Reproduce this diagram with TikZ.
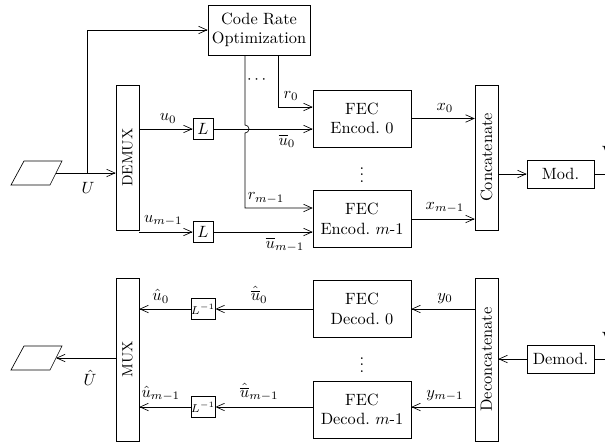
\documentclass[tikz,border=0pt]{standalone}
\usepackage{amsmath,amssymb,amsfonts}
\usetikzlibrary{arrows.meta, positioning, calc}
\begin{document}
\begin{tikzpicture}[x=0.613pt, y=-0.613pt,
    block/.style={rectangle, draw, align=center, minimum width=60pt, minimum height=35pt, inner sep=1pt},
    bar/.style={rectangle, draw, minimum width=14pt, inner sep=0pt},
    lbox/.style={rectangle, draw, minimum width=12.3pt, minimum height=13pt, inner sep=0pt},
    arrow/.style={-{Straight Barb[length=1.8mm, width=1.6mm]}}
]
\useasboundingbox (0,0) rectangle (605,444);

% transmitter side
\node[block, minimum width=62.5pt, minimum height=30.7pt] (cro) at (259,30) {Code Rate\\Optimization};
\node[bar, minimum height=89pt] (demux) at (127.5,157.5) {\rotatebox{90}{\small DEMUX}};
\node[lbox] (l0) at (203,129) {$L$};
\node[lbox] (l1) at (203,232) {$L$};
\node[block] (enc0) at (362,118.5) {FEC\\Encod.~0};
\node[block] (enc1) at (362,219) {FEC\\Encod.~$m$-1};
\node (encdots) at (362,170) {$\vdots$};
\node (rdots) at (258,80) {$\cdots$};
\node[bar, minimum height=89pt] (concat) at (486.5,157.5) {\rotatebox{90}{Concatenate}};
\node[block, minimum width=41pt, minimum height=17pt] (mod) at (560.5,174) {Mod.};
\node[anchor=west] (txch) at (596,152) {V};

\draw (11,185) -- (24,161) -- (62,161) -- (50,185) -- cycle;
\coordinate (src) at (56,173);
\coordinate (br) at (87,173);
\coordinate (jmp) at (245,129);
\coordinate (r0c) at (278,107);
\coordinate (r1c) at (245,208);
\coordinate (txout) at (612,174);

\draw[arrow] (src) -- (src -| demux.west);
\node (ulab) at (88,188) {$U$};
\draw[arrow] (br) |- (cro.west);
\draw[arrow] (demux.east |- l0) -- (l0.west) node[above, pos=0.54] {$u_0$};
\draw[arrow] (l0.east) -- (l0 -| enc0.west) node[below, pos=0.74] {$\overline{u}_0$};
\draw[arrow] (demux.east |- l1) -- (l1.west) node[above, pos=0.45] {$u_{m-1}$};
\draw[arrow] (l1.east) -- (l1 -| enc1.west) node[below, pos=0.72] {$\overline{u}_{m-1}$};
\draw[arrow] (cro.south -| r0c) |- (r0c -| enc0.west);
\node (r0lab) at (291,96) {$r_0$};
\draw[arrow] (cro.south -| jmp) -- ([yshift=4*0.613pt]jmp) arc[start angle=-90, end angle=90, radius=4] -- (r1c) -- (r1c -| enc1.west);
\node (r1lab) at (266,198) {$r_{m-1}$};
\draw[arrow] (enc0.east) -- (enc0.east -| concat.west) node[above, pos=0.53] {$x_0$};
\draw[arrow] (enc1.east) -- (enc1.east -| concat.west) node[above, pos=0.53] {$x_{m-1}$};
\draw[arrow] (concat.east |- mod) -- (mod.west);
\draw (mod.east) -- (txout);

% receiver side
\node[bar, minimum height=100pt] (mux) at (127.5,359.5) {\rotatebox{90}{\small MUX}};
\node[lbox] (il0) at (203,309) {$\scriptstyle L^{-1}$};
\node[lbox] (il1) at (203,407) {$\scriptstyle L^{-1}$};
\node[block] (dec0) at (362,309) {FEC\\Decod.~0};
\node[block] (dec1) at (362,409.5) {FEC\\Decod.~$m$-1};
\node (decdots) at (362,360) {$\vdots$};
\node[bar, minimum height=100pt] (deconcat) at (486.5,359.5) {\rotatebox{90}{Deconcatenate}};
\node[block, minimum width=41pt, minimum height=17pt] (demod) at (560.5,359) {Demod.};
\node[anchor=west] (rxch) at (596,338) {V};

\draw (11,370) -- (24,346) -- (62,346) -- (50,370) -- cycle;
\coordinate (snk) at (56,358);
\coordinate (rxin) at (612,359);

\draw (demod.east) -- (rxin);
\draw[arrow] (demod.west) -- (demod -| deconcat.east);
\draw[arrow] (deconcat.west |- dec0) -- (dec0.east) node[above, pos=0.47] {$y_0$};
\draw[arrow] (deconcat.west |- il1) -- (il1 -| dec1.east) node[above, pos=0.47] {$y_{m-1}$};
\draw[arrow] (dec0.west) -- (il0.east) node[above, pos=0.55] {$\hat{\overline{u}}_0$};
\draw[arrow] (il1 -| dec1.west) -- (il1.east) node[above, pos=0.55] {$\hat{\overline{u}}_{m-1}$};
\draw[arrow] (il0.west) -- (il0 -| mux.east) node[above, pos=0.58] {$\hat{u}_0$};
\draw[arrow] (il1.west) -- (il1 -| mux.east) node[above, pos=0.58] {$\hat{u}_{m-1}$};
\draw[arrow] (mux.west |- snk) -- (snk);
\node (uhat) at (90,378) {$\hat{U}$};
\end{tikzpicture}
\end{document}
